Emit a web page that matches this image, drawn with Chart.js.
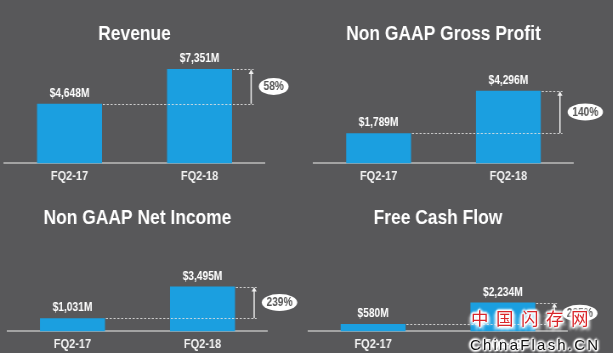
<!DOCTYPE html>
<html>
<head>
<meta charset="utf-8">
<script src="https://cdn.jsdelivr.net/npm/chart.js@4.4.1/dist/chart.umd.min.js"></script>
<style>
  html, body { margin: 0; padding: 0; width: 613px; height: 353px; overflow: hidden; background: #58585a; }
  .panel { position: absolute; transform-origin: 0 0; transform: scaleX(0.85); }
  .wm { position: absolute; white-space: nowrap; }
  #wm1 { left: 471px; top: 305px; font: 17.5px "Noto Sans CJK SC", sans-serif; color: #d9262b; letter-spacing: 7.5px;
         text-shadow: 0 0 2px #fff, 0 0 3px #fff, 1px 1px 1px #fff, -1px -1px 1px #fff, 2px 0 2px #fff, -2px 0 2px #fff, 0 2px 2px #fff, 0 -2px 2px #fff, 3px 3px 3px #fff, -3px 3px 3px #fff; }
  #wm2 { left: 470px; top: 336px; font: 15px "Liberation Sans", Arial, sans-serif; color: #111; letter-spacing: 2.2px;
         text-shadow: 0 0 2px #fff, 0 0 3px #fff, 1px 1px 1px #fff, -1px -1px 1px #fff, 2px 0 2px #fff, -2px 0 2px #fff, 0 2px 2px #fff, 0 -2px 2px #fff; }
</style>
</head>
<body>
<div class="panel" style="left:0px;top:0px;"><canvas id="c1" width="361" height="189"></canvas></div>
<div class="panel" style="left:306px;top:0px;"><canvas id="c2" width="361" height="189"></canvas></div>
<div class="panel" style="left:0px;top:176px;"><canvas id="c3" width="361" height="181"></canvas></div>
<div class="panel" style="left:306px;top:176px;"><canvas id="c4" width="361" height="181"></canvas></div>
<div class="wm" id="wm1">中国闪存网</div>
<div class="wm" id="wm2">ChinaFlash.CN</div>
<script>
// ---- data ----
const categories = ['FQ2-17', 'FQ2-18'];
const panelTitles = ['Revenue', 'Non GAAP Gross Profit', 'Non GAAP Net Income', 'Free Cash Flow'];
const revenue = [4648, 7351];
const grossProfit = [1789, 4296];
const netIncome = [1031, 3495];
const freeCashFlow = [580, 2234];

// ---- layout (chart pixel units, before horizontal squeeze) ----
const panelLayout = [
  { canvas: 'c1', values: revenue,      title: panelTitles[0], padL: 5.3, padR: 49.8, ymax: 8791, tTop: 22, tBottom: 4 },
  { canvas: 'c2', values: grossProfit,  title: panelTitles[1], padL: 9.1, padR: 46.6, ymax: 6671, tTop: 22, tBottom: 4 },
  { canvas: 'c3', values: netIncome,    title: panelTitles[2], padL: 8.8, padR: 46.3, ymax: 7395, tTop: 30, tBottom: 6 },
  { canvas: 'c4', values: freeCashFlow, title: panelTitles[3], padL: 2.6, padR: 53.1, ymax: 7338, tTop: 30, tBottom: 6 }
];

const FONT = '"Liberation Sans", Arial, sans-serif';
Chart.defaults.font.family = FONT;

function money(v) { return '$' + v.toLocaleString('en-US') + 'M'; }
function growth(vals) { return Math.round((vals[1] / vals[0] - 1) * 100) + '%'; }

const annotations = {
  id: 'annotations',
  afterDatasetsDraw(chart) {
    const ctx = chart.ctx;
    const bars = chart.getDatasetMeta(0).data;
    const vals = chart.data.datasets[0].data;
    const b0 = bars[0], b1 = bars[1];
    const r0 = b0.x + b0.width / 2, r1 = b1.x + b1.width / 2;
    const ax = r1 + 22.5;
    ctx.save();
    // value labels
    ctx.fillStyle = '#ffffff';
    ctx.font = 'bold 12px ' + FONT;
    ctx.textAlign = 'center';
    ctx.textBaseline = 'middle';
    bars.forEach((b, i) => ctx.fillText(money(vals[i]), b.x, b.y - 10));
    // dashed guide lines
    ctx.strokeStyle = 'rgba(225,225,225,0.85)';
    ctx.lineWidth = 1;
    ctx.setLineDash([2.5, 2]);
    ctx.beginPath();
    ctx.moveTo(r0 + 1, Math.round(b0.y) + 0.5); ctx.lineTo(ax + 3, Math.round(b0.y) + 0.5);
    ctx.moveTo(r1 + 1, Math.round(b1.y) + 0.5); ctx.lineTo(ax + 3, Math.round(b1.y) + 0.5);
    ctx.stroke();
    // arrow
    ctx.setLineDash([]);
    ctx.strokeStyle = '#f0f0f0';
    ctx.lineWidth = 1.5;
    ctx.beginPath();
    ctx.moveTo(ax, b0.y); ctx.lineTo(ax, b1.y + 3);
    ctx.stroke();
    ctx.fillStyle = '#f0f0f0';
    ctx.beginPath();
    ctx.moveTo(ax, b1.y + 0.5); ctx.lineTo(ax - 3, b1.y + 5); ctx.lineTo(ax + 3, b1.y + 5);
    ctx.closePath(); ctx.fill();
    // growth bubble
    const label = growth(vals);
    ctx.font = 'bold 12px ' + FONT;
    const tw = ctx.measureText(label).width;
    const rx = tw / 2 + 5.5;
    const ex = ax + 9 + rx, ey = (b0.y + b1.y) / 2;
    ctx.fillStyle = '#ffffff';
    ctx.beginPath(); ctx.ellipse(ex, ey, rx, 8.5, 0, 0, Math.PI * 2); ctx.fill();
    ctx.fillStyle = '#555555';
    ctx.fillText(label, ex, ey + 0.5);
    ctx.restore();
  }
};

panelLayout.forEach(p => {
  new Chart(document.getElementById(p.canvas), {
    type: 'bar',
    data: {
      labels: categories,
      datasets: [{ data: p.values, backgroundColor: '#1b9fe0', borderWidth: 0, barPercentage: 0.5, categoryPercentage: 1 }]
    },
    options: {
      responsive: false,
      animation: false,
      devicePixelRatio: 1,
      layout: { padding: { left: p.padL, right: p.padR, top: 0, bottom: 0 } },
      plugins: {
        legend: { display: false },
        tooltip: { enabled: false },
        title: {
          display: true, text: p.title, color: '#ffffff',
          font: { size: 20.5, weight: 'bold', family: FONT },
          padding: { top: p.tTop, bottom: p.tBottom }
        }
      },
      scales: {
        x: {
          grid: { display: false, drawTicks: false },
          border: { display: true, color: '#a3a3a3', width: 2 },
          ticks: { color: '#f2f2f2', font: { size: 13, weight: 'bold', family: FONT }, padding: 5 }
        },
        y: { display: false, min: 0, max: p.ymax }
      }
    },
    plugins: [annotations]
  });
});
</script>
</body>
</html>
